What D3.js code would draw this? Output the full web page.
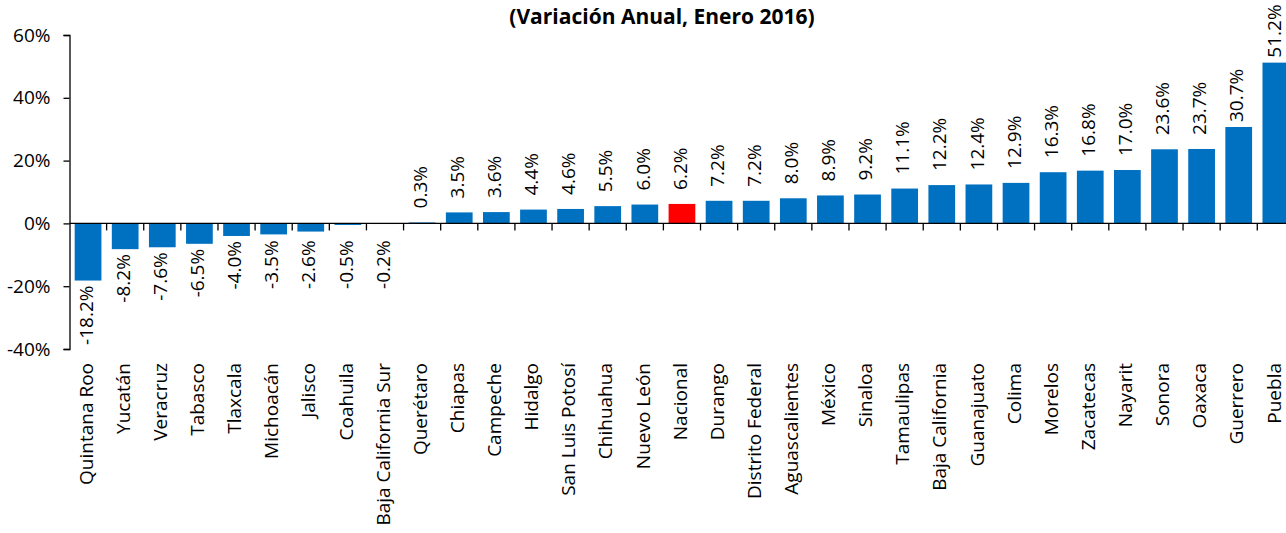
<!DOCTYPE html>
<html>
<head>
<meta charset="utf-8">
<script src="https://cdn.jsdelivr.net/npm/d3@7"></script>
<style>
  body { margin: 0; background: #fff; }
  svg { display: block; font-family: "Open Sans", sans-serif; }
</style>
</head>
<body>
<svg id="chart" width="1286" height="533"></svg>
<script>
const states = ["Quintana Roo", "Yucatán", "Veracruz", "Tabasco", "Tlaxcala", "Michoacán", "Jalisco",
    "Coahuila", "Baja California Sur", "Querétaro", "Chiapas", "Campeche", "Hidalgo", "San Luis Potosí",
    "Chihuahua", "Nuevo León", "Nacional", "Durango", "Distrito Federal", "Aguascalientes", "México",
    "Sinaloa", "Tamaulipas", "Baja California", "Guanajuato", "Colima", "Morelos", "Zacatecas", "Nayarit",
    "Sonora", "Oaxaca", "Guerrero", "Puebla"];
const growth = [-18.2, -8.2, -7.6, -6.5, -4.0, -3.5, -2.6, -0.5, -0.2, 0.3, 3.5, 3.6, 4.4, 4.6, 5.5, 6.0,
    6.2, 7.2, 7.2, 8.0, 8.9, 9.2, 11.1, 12.2, 12.4, 12.9, 16.3, 16.8, 17.0, 23.6, 23.7, 30.7, 51.2];
const yTicks = [-40, -20, 0, 20, 40, 60];
const highlight = "Nacional";
const title = "(Variación Anual, Enero 2016)";

const data = states.map((s, i) => ({ state: s, value: growth[i] }));

const svg = d3.select("#chart");

const x = d3.scaleBand()
    .domain(states)
    .range([69.5, 1294.4])
    .paddingInner(0.28)
    .paddingOuter(0.14);

const y = d3.scaleLinear()
    .domain([-40, 60])
    .range([349, 35]);

// title
svg.append("text")
    .attr("x", 662)
    .attr("y", 24)
    .attr("text-anchor", "middle")
    .style("font-size", "21px")
    .style("font-weight", "bold")
    .text(title);

// bars
svg.append("g")
    .selectAll("rect")
    .data(data)
    .join("rect")
    .attr("x", d => x(d.state))
    .attr("width", x.bandwidth())
    .attr("y", d => y(Math.max(0, d.value)))
    .attr("height", d => Math.abs(y(d.value) - y(0)))
    .attr("fill", d => d.state === highlight ? "#FF0000" : "#0070C0");

// y axis
const yAxis = svg.append("g")
    .attr("transform", "translate(69.5,0)")
    .call(d3.axisLeft(y).tickValues(yTicks).tickSize(6).tickFormat(d => d + "%"));
yAxis.select(".domain").attr("stroke", "#000").attr("stroke-width", 1.3);
yAxis.selectAll(".tick line").attr("stroke", "#000").attr("stroke-width", 1.3);
yAxis.selectAll(".tick text")
    .attr("x", -19)
    .style("font-size", "19px")
    .style("font-family", "Open Sans, sans-serif")
    .attr("fill", "#000");

// zero line with category boundary ticks
const zero = y(0);
svg.append("line")
    .attr("x1", 69.5).attr("x2", 1286)
    .attr("y1", zero).attr("y2", zero)
    .attr("stroke", "#000").attr("stroke-width", 1.3);

const half = x.step() * x.paddingInner() / 2;
svg.append("g")
    .selectAll("line")
    .data(states.slice(1))
    .join("line")
    .attr("x1", d => x(d) - half).attr("x2", d => x(d) - half)
    .attr("y1", zero).attr("y2", zero + 7)
    .attr("stroke", "#000").attr("stroke-width", 1.3);

// value labels (tall bars get their labels pulled in so they stay in the chart)
svg.append("g")
    .selectAll("text")
    .data(data)
    .join("text")
    .attr("transform", d => {
        const cx = x(d.state) + x.bandwidth() / 2 - 1;
        let cy;
        if (d.value >= 0) cy = y(d.value) - (d.value > 30 ? 5 : 14);
        else cy = Math.max(y(d.value) + 5, zero + 17);
        return `translate(${cx},${cy}) rotate(-90)`;
    })
    .attr("text-anchor", d => d.value >= 0 ? "start" : "end")
    .attr("dy", "0.3em")
    .style("font-size", "19px")
    .text(d => d.value.toFixed(1) + "%");

// category labels
svg.append("g")
    .selectAll("text")
    .data(states)
    .join("text")
    .attr("transform", d => `translate(${x(d) + x.bandwidth() / 2 - 1},363) rotate(-90)`)
    .attr("text-anchor", "end")
    .attr("dy", "0.3em")
    .style("font-size", "19px")
    .text(d => d);
</script>
</body>
</html>
